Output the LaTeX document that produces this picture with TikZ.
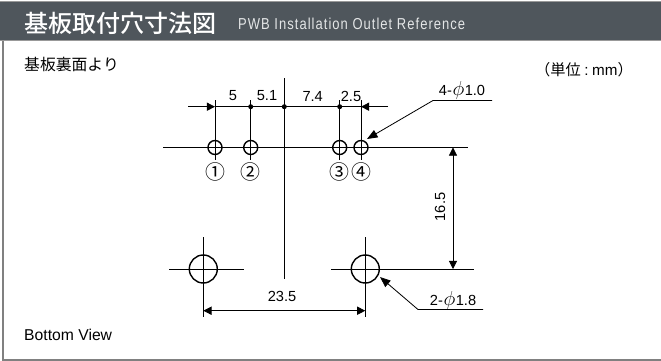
\documentclass[tikz,border=0pt]{standalone}
\usepackage{fontspec}
\setmainfont{Liberation Sans}
\newfontfamily\cjk{Noto Sans CJK JP}
\newfontfamily\cjkbold{Noto Sans CJK JP Medium}
\usepackage{tikz}
\usetikzlibrary{arrows.meta}
\definecolor{barcolor}{HTML}{4F565C}
\newcommand{\holephi}{\hspace{0.6pt}{\fontsize{16}{16}\selectfont$\phi$}\hspace{0.4pt}}
\tikzset{
  dimline/.style={line width=0.7pt,{Triangle[length=7pt,width=7pt]}-{Triangle[length=7pt,width=7pt]}},
  stopline/.style={line width=0.7pt},
  holeline/.style={line width=1.2pt},
  dimtext/.style={font=\fontsize{12.5}{14}\selectfont,inner sep=0pt},
  numtext/.style={font=\cjk\fontsize{17}{19}\selectfont,inner sep=0pt},
}
\begin{document}
\begin{tikzpicture}[line cap=butt,line join=miter,x=0.03cm,y=-0.03cm]
\useasboundingbox (0,0) rectangle (661,361);

% frame and title bar
\draw[gray,line width=0.9pt] (3,40) -- (3,360) -- (661,360);
\fill[gray!80] (0,0.5) rectangle (661,41);
\fill[barcolor] (0,2) rectangle (661,40);
\node[white,anchor=west,inner sep=0pt] (title) at (24,23) {\cjkbold\fontsize{20.5}{22}\selectfont 基板取付穴寸法図};
\node[white!85!barcolor,anchor=west,inner sep=0pt] (subtitle) at (238,24) {\addfontfeature{LetterSpace=8}\fontsize{13.5}{15}\selectfont\scalebox{0.82}[1]{PWB Installation Outlet Reference}};
\node[anchor=west,inner sep=0pt] (side) at (24,64) {\cjk\fontsize{13.5}{15}\selectfont 基板裏面より};
\node[anchor=west,inner sep=0pt] (unit) at (535,70) {\fontsize{13}{15}\selectfont{\cjk （単位}\hspace{3pt}:\hspace{3pt}mm{\cjk ）}};
\node[anchor=west,inner sep=0pt] (bottom) at (24,335) {\fontsize{13.4}{15}\selectfont Bottom View};

\coordinate (holeA) at (215,147.5);
\coordinate (holeB) at (250.7,147.5);
\coordinate (holeC) at (339.7,147.5);
\coordinate (holeD) at (361,147.5);
\coordinate (bigA) at (203.3,269);
\coordinate (bigB) at (365.3,269);

% center lines
\draw[stopline] (163,147.5) -- (468,147.5);
\draw[stopline] (284.3,78) -- (284.3,279);
\draw[stopline] (169,269) -- (244,269);
\draw[stopline] (331,269) -- (474,269);
\foreach \hole in {holeA,holeB,holeC,holeD}{
  \draw[stopline] (\hole) ++(0,-47.5) -- ++(0,60);
  \draw[holeline] (\hole) circle (7);
}
\foreach \hole in {bigA,bigB}{
  \draw[stopline] (\hole) ++(0,-32) -- ++(0,80);
  \draw[holeline] (\hole) circle (14);
}

% top dimension
\draw[stopline,-{Triangle[length=7pt,width=7pt]}] (188,106.7) -- (215,106.7);
\draw[stopline,-{Triangle[length=7pt,width=7pt]}] (388,106.7) -- (361,106.7);
\draw[stopline] (215,106.7) -- (361,106.7);
\foreach \dotx in {250.7,284.3,339.7}
  \fill (\dotx,106.7) circle (2.5);
\node[dimtext] (dimA) at (233,96) {5};
\node[dimtext] (dimB) at (267,96) {5.1};
\node[dimtext] (dimC) at (312.7,96) {7.4};
\node[dimtext] (dimD) at (351,96) {2.5};

% circled numbers
\node[numtext] (numA) at (215,171.7) {①};
\node[numtext] (numB) at (250.7,171.7) {②};
\node[numtext] (numC) at (339.7,171.7) {③};
\node[numtext] (numD) at (361,171.7) {④};

% leaders
\coordinate (kneeA) at (433,100.5);
\coordinate (endA) at (492,100.5);
\draw[stopline,{Triangle[length=9pt,width=7pt]}-] (367,139) -- (kneeA) -- (endA);
\node[dimtext] (smallhole) at (462,90) {4-\holephi 1.0};
\coordinate (kneeB) at (418,309.5);
\coordinate (endB) at (483,309.5);
\draw[stopline,{Triangle[length=9pt,width=7pt]}-] (380,277) -- (kneeB) -- (endB);
\node[dimtext] (bighole) at (453,300.7) {2-\holephi 1.8};

% pitch dimensions
\draw[dimline] (453,147.5) -- (453,269);
\node[dimtext,rotate=90] (height) at (440,207) {16.5};
\draw[dimline] (bigA |- 0,310.7) -- (bigB |- 0,310.7);
\node[dimtext] (width) at (282,296) {23.5};
\end{tikzpicture}
\end{document}
